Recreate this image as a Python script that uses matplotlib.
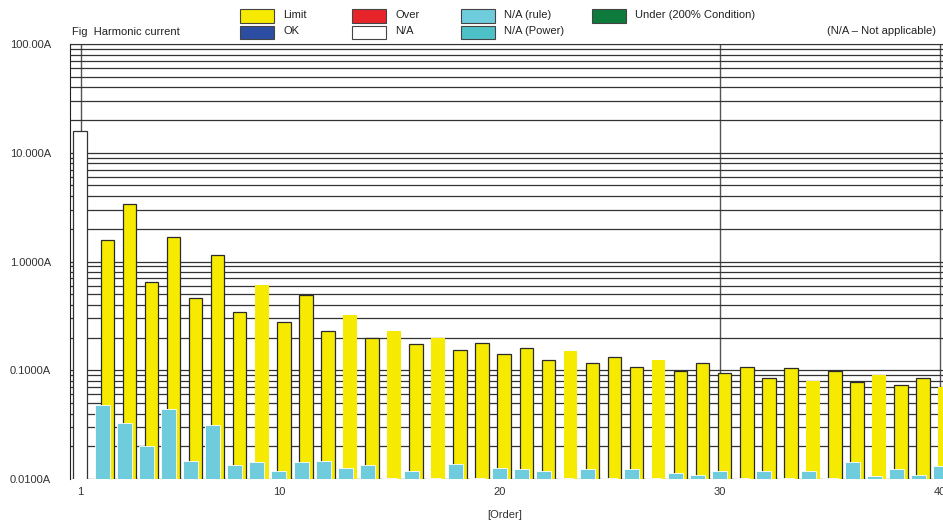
import matplotlib.pyplot as plt
import matplotlib.patches as mpatches
from matplotlib.ticker import LogLocator, NullFormatter

plt.rcParams['font.family'] = ['Liberation Sans', 'DejaVu Sans']

# harmonic orders 2..40 (order 1 is drawn separately as N/A)
orders = list(range(2, 41))

# limit per order [A]
limit_values = [1.57, 3.36, 0.648, 1.67, 0.457, 1.15, 0.343, 0.603, 0.275, 0.487,
                0.231, 0.322, 0.199, 0.228, 0.174, 0.199, 0.155, 0.178, 0.140, 0.160,
                0.125, 0.151, 0.116, 0.133, 0.106, 0.125, 0.0994, 0.116, 0.094, 0.106,
                0.0857, 0.104, 0.0799, 0.098, 0.0787, 0.0907, 0.0734, 0.0857, 0.0698]

# measured current, N/A (rule) [A]
rule_values = [0.0478, 0.0328, 0.0201, 0.0438, 0.01456, 0.0314, 0.01337, 0.01425, 0.01192, 0.01425,
               0.01456, 0.0127, 0.01337, 0.0102, 0.01192, 0.0102, 0.01366, 0.0102, 0.0127, 0.01244,
               0.01192, 0.0102, 0.01244, 0.0102, 0.01244, 0.0102, 0.01143, 0.01088, 0.01185, 0.0102,
               0.01185, 0.0102, 0.01185, 0.0102, 0.01443, 0.0107, 0.01244, 0.01088, 0.01326]

# order 1 (fundamental), N/A
fund_order = 1
fund_value = 15.8

# limit bars drawn without outline in the report
no_edge_orders = [9, 13, 15, 17, 23, 27, 34, 37, 40]

ytick_values = [0.01, 0.1, 1, 10, 100]
ytick_labels = ['0.0100A', '0.1000A', '1.0000A', '10.000A', '100.00A']
xtick_values = [1, 10, 20, 30, 40]

legend_labels = ['Limit', 'OK', 'Over', 'N/A', 'N/A (rule)', 'N/A (Power)', 'Under (200% Condition)']
legend_colors = ['#F5EA00', '#2C4EA2', '#E8242B', '#FFFFFF', '#6FCCDD', '#4EC0C8', '#0E7A3C']

W, H = 943, 524
fig = plt.figure(figsize=(W / 100, H / 100), dpi=100)


def fx(px):
    return px / W


def fy(py):
    return 1 - py / H


# axes placed in pixel coords of the reference (right side runs past the image)
ax = fig.add_axes([fx(70), fy(479), fx(943) - fx(70), fy(44) - fy(479)])
ax.set_yscale('log')
ax.set_ylim(0.01, 100)
ax.set_xlim(0.52, 40.12)

# horizontal grid at every decade subdivision
ax.yaxis.set_major_locator(LogLocator(base=10, numticks=10))
ax.yaxis.set_minor_locator(LogLocator(base=10, subs=range(2, 10), numticks=20))
ax.yaxis.set_minor_formatter(NullFormatter())
ax.set_yticks(ytick_values)
ax.set_yticklabels(ytick_labels)
ax.grid(True, axis='y', which='both', color='#333333', lw=0.9, zorder=0)
ax.set_axisbelow(True)

for xv in [1, 30, 40]:
    ax.axvline(xv, color='#555555', lw=1.0, zorder=0.5)

ax.set_xticks(xtick_values)
ax.tick_params(axis='both', which='both', length=0, labelsize=8, colors='#333333')
ax.tick_params(axis='y', pad=13.5)
ax.tick_params(axis='x', pad=6)

ax.spines['right'].set_visible(False)
ax.spines['bottom'].set_visible(False)
ax.spines['left'].set_color('#222222')
ax.spines['top'].set_color('#333333')

# fundamental (N/A)
ax.bar(fund_order - 0.35, fund_value, width=0.63, align='edge', color='white',
       edgecolor='#333333', lw=0.9, zorder=2)

# limit bars, shifted right of the order
edge_cols = ['none' if o in no_edge_orders else '#2b2b2b' for o in orders]
ax.bar([o - 0.09 for o in orders], limit_values, width=0.615, align='edge',
       color=legend_colors[0], edgecolor=edge_cols, lw=0.9, zorder=2)

# measured N/A (rule) bars in front
ax.bar(orders, rule_values, width=0.68, color=legend_colors[4],
       edgecolor='white', lw=0.6, zorder=3)

ax.set_xlabel('[Order]', fontsize=8, color='#333333')
ax.xaxis.set_label_coords((fx(505) - fx(70)) / (fx(943) - fx(70)), -0.071)

# legend block at the top
leg_x = [240, 240, 352, 352, 461, 461, 592]
leg_y = [15.8, 32.5, 15.8, 32.5, 15.8, 32.5, 15.8]
for lab, col, px, py in zip(legend_labels, legend_colors, leg_x, leg_y):
    rect = mpatches.Rectangle((fx(px), fy(py + 6.8)), 34 / W, 13.6 / H,
                              transform=fig.transFigure, facecolor=col,
                              edgecolor='#444444', lw=0.8)
    fig.add_artist(rect)
    fig.text(fx(px + 43), fy(py - 1), lab, fontsize=8, va='center', color='#222222')

fig.text(fx(72), fy(32), 'Fig  Harmonic current', fontsize=8, va='center', color='#222222')
fig.text(fx(936), fy(31.5), '(N/A \u2013 Not applicable)', fontsize=8, va='center',
         ha='right', color='#222222')

fig.savefig('out.png', dpi=100)
plt.close(fig)
